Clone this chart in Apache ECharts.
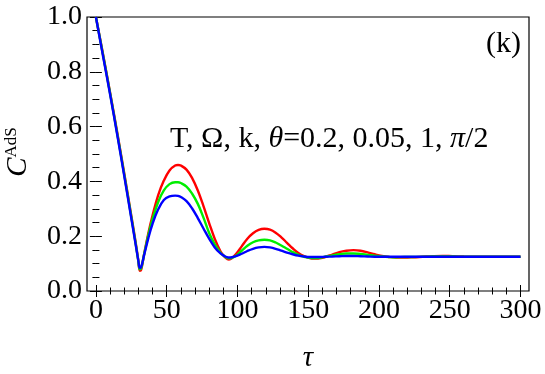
<!DOCTYPE html>
<html>
<head>
<meta charset="utf-8">
<script src="https://cdn.jsdelivr.net/npm/echarts@6/dist/echarts.min.js"></script>
<style>
  html, body { margin: 0; padding: 0; background: #fff; }
  #chart { width: 545px; height: 374px; }
</style>
</head>
<body>
<div id="chart"></div>
<script>
// tau values (shared by the three curves)
const tau = [0, 5, 10, 15, 20, 25, 28, 30, 31, 32, 34, 37, 40, 44, 48, 52, 56, 58,
  60, 64, 68, 72, 76, 80, 84, 88, 91, 93, 94, 96, 99, 103, 107, 111, 115, 119,
  123, 127, 131, 135, 139, 143, 147, 151, 154, 156, 158, 162, 167, 172, 177, 182,
  187, 192, 197, 202, 207, 212, 218, 224, 231, 238, 245, 252, 260, 270, 280, 290, 300];

// C^AdS
const cRed = [1.000, 0.865, 0.725, 0.580, 0.430, 0.275, 0.180, 0.110, 0.074, 0.078, 0.133, 0.210,
  0.275, 0.350, 0.403, 0.440, 0.458, 0.460, 0.458, 0.443, 0.412, 0.367, 0.310, 0.248,
  0.190, 0.145, 0.124, 0.116, 0.115, 0.119, 0.135, 0.163, 0.191, 0.211, 0.223, 0.227,
  0.224, 0.213, 0.196, 0.176, 0.156, 0.139, 0.127, 0.120, 0.118, 0.118, 0.119, 0.124,
  0.133, 0.142, 0.147, 0.149, 0.147, 0.141, 0.134, 0.128, 0.124, 0.122, 0.122, 0.123,
  0.125, 0.127, 0.128, 0.127, 0.126, 0.125, 0.125, 0.125, 0.125];
const cGreen = [1.000, 0.862, 0.722, 0.576, 0.425, 0.270, 0.176, 0.108, 0.079, 0.083, 0.132, 0.203,
  0.262, 0.325, 0.367, 0.390, 0.397, 0.397, 0.394, 0.381, 0.355, 0.318, 0.268, 0.212,
  0.170, 0.140, 0.126, 0.120, 0.119, 0.121, 0.129, 0.147, 0.165, 0.178, 0.185, 0.187,
  0.185, 0.177, 0.166, 0.154, 0.142, 0.132, 0.125, 0.121, 0.120, 0.120, 0.121, 0.125,
  0.130, 0.134, 0.137, 0.137, 0.135, 0.132, 0.129, 0.126, 0.124, 0.123, 0.124, 0.124,
  0.125, 0.126, 0.126, 0.126, 0.125, 0.125, 0.125, 0.125, 0.125];
const cBlue = [1.000, 0.858, 0.718, 0.572, 0.420, 0.265, 0.172, 0.110, 0.084, 0.088, 0.130, 0.192,
  0.245, 0.298, 0.332, 0.345, 0.348, 0.347, 0.343, 0.328, 0.301, 0.266, 0.228, 0.191,
  0.159, 0.137, 0.127, 0.123, 0.122, 0.123, 0.127, 0.136, 0.146, 0.154, 0.159, 0.161,
  0.159, 0.154, 0.147, 0.140, 0.134, 0.129, 0.126, 0.124, 0.124, 0.124, 0.124, 0.125,
  0.126, 0.127, 0.128, 0.128, 0.127, 0.126, 0.125, 0.125, 0.125, 0.125, 0.125, 0.125,
  0.125, 0.125, 0.125, 0.125, 0.125, 0.125, 0.125, 0.125, 0.125];

// tick positions
const xMajor = [0, 50, 100, 150, 200, 250, 300];
const xMinor = [10, 20, 30, 40, 60, 70, 80, 90, 110, 120, 130, 140, 160, 170, 180, 190,
  210, 220, 230, 240, 260, 270, 280, 290];
const yMajor = [0, 0.2, 0.4, 0.6, 0.8, 1.0];
const yMinor = [0.05, 0.1, 0.15, 0.25, 0.3, 0.35, 0.45, 0.5, 0.55, 0.65, 0.7, 0.75, 0.85, 0.9, 0.95];

const FONT = "'Liberation Serif', 'DejaVu Serif', serif";
const chart = echarts.init(document.getElementById('chart'));

// one axis = one set of ticks (major or minor) on one side of the frame
function xAxisOf(pos, ticks, len, labels) {
  return {
    type: 'value', position: pos, min: -6.3, max: 306,
    axisLine: { show: false },
    splitLine: { show: false },
    axisTick: { show: true, inside: true, length: len, customValues: ticks,
      lineStyle: { color: '#000', width: 1 } },
    axisLabel: labels
      ? { show: true, customValues: ticks, margin: 6, color: '#000', fontFamily: FONT, fontSize: 28 }
      : { show: false }
  };
}
function yAxisOf(pos, ticks, len, labels) {
  return {
    type: 'value', position: pos, min: 0, max: 1,
    axisLine: { show: false },
    splitLine: { show: false },
    axisTick: { show: true, inside: true, length: len, customValues: ticks,
      lineStyle: { color: '#000', width: 1 } },
    axisLabel: labels
      ? { show: true, customValues: ticks, margin: 5, color: '#000', fontFamily: FONT, fontSize: 28,
          formatter: (v) => v.toFixed(1) }
      : { show: false }
  };
}

function zip(ys) {
  return tau.map((t, i) => [t, ys[i]]);
}
function line(ys, color) {
  return {
    type: 'line', data: zip(ys), xAxisIndex: 0, yAxisIndex: 0,
    showSymbol: false, smooth: 0.4, smoothMonotone: 'none',
    lineStyle: { color: color, width: 2.4 }, itemStyle: { color: color }
  };
}

const option = {
  animation: false,
  backgroundColor: '#fff',
  grid: { left: 87, right: 16, top: 17, bottom: 83, show: true, borderColor: '#000', borderWidth: 1.2,
    backgroundColor: 'transparent' },
  xAxis: [
    xAxisOf('bottom', xMajor, 6, true),
    xAxisOf('bottom', xMinor, 3.5, false),
    xAxisOf('top', xMajor, 6, false),
    xAxisOf('top', xMinor, 3.5, false)
  ],
  yAxis: [
    yAxisOf('left', yMajor, 6, true),
    yAxisOf('left', yMinor, 3.5, false),
    yAxisOf('right', yMajor, 6, false),
    yAxisOf('right', yMinor, 3.5, false)
  ],
  series: [
    line(cRed, '#ff0000'),
    line(cGreen, '#00ee00'),
    line(cBlue, '#0000ff')
  ],
  graphic: [
    { // y title C^AdS
      type: 'text', x: 18, y: 152, rotation: Math.PI / 2,
      style: {
        text: '{c|C}{s|AdS}', align: 'center', verticalAlign: 'middle', fill: '#000',
        rich: {
          c: { fontFamily: FONT, fontStyle: 'italic', fontSize: 29, fill: '#000' },
          s: { fontFamily: FONT, fontSize: 17, fill: '#000', padding: [0, 0, 12, 0] }
        }
      }
    },
    { // x title
      type: 'text', x: 308, y: 358,
      style: { text: 'τ', font: "italic 29px " + FONT, fill: '#000', align: 'center', verticalAlign: 'middle' }
    },
    { // panel tag
      type: 'text', x: 521, y: 44,
      style: { text: '(k)', font: "30px " + FONT, fill: '#000', align: 'right', verticalAlign: 'middle' }
    },
    { // parameters
      type: 'text', x: 170, y: 139,
      style: {
        text: '{n|T, Ω, k, }{i|θ}{n|=0.2, 0.05, 1, }{i|π}{n|/2}',
        align: 'left', verticalAlign: 'middle', fill: '#000',
        rich: {
          n: { fontFamily: FONT, fontSize: 30, fill: '#000' },
          i: { fontFamily: FONT, fontStyle: 'italic', fontSize: 30, fill: '#000' }
        }
      }
    }
  ]
};
chart.setOption(option);
</script>
</body>
</html>
